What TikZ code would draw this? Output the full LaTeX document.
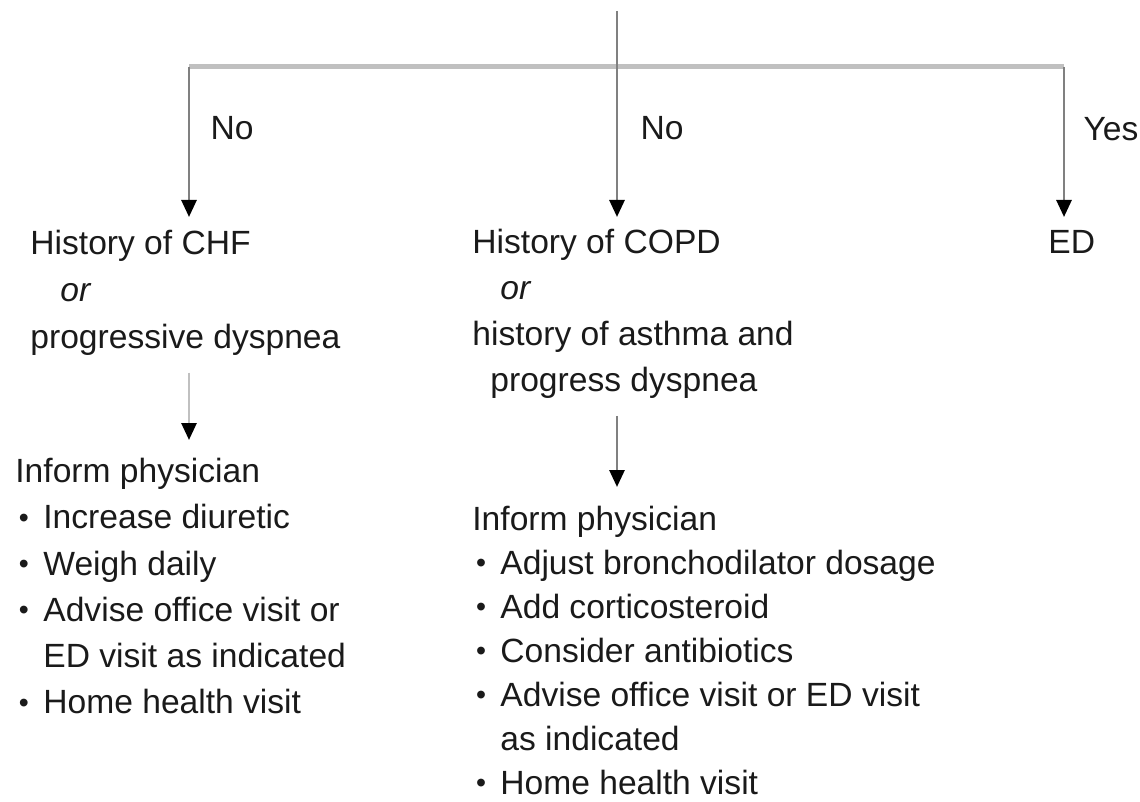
\documentclass[tikz,border=0pt]{standalone}
\usepackage{fontspec}
\setmainfont{Liberation Sans}
\usetikzlibrary{arrows.meta}
\definecolor{linedark}{HTML}{808080}
\definecolor{linelight}{HTML}{C0C0C0}
\definecolor{textdark}{HTML}{1A1A1A}
\newcommand{\blt}{\makebox[14pt][l]{\hspace{1.8pt}\raisebox{0.8pt}{\scalebox{0.85}{\textbullet}}}}
\newcommand{\bltgap}{\hspace*{14pt}}

\tikzset{
  txt/.style={inner sep=0pt, anchor=north west, align=left, text=textdark,
              font=\fontsize{16.8}{23}\selectfont},
  lbl/.style={inner sep=0pt, text=textdark, font=\fontsize{16.8}{23}\selectfont},
  flow/.style={draw=linedark, line width=1.4pt,
               -{Triangle[color=black, width=7.5pt, length=8.5pt]}},
  branch/.style={draw=linelight, line width=2.5pt}
}

\begin{document}
\begin{tikzpicture}[x=0.5pt, y=-0.5pt]
    \useasboundingbox (0,0) rectangle (1140,802);

    % split points
    \coordinate (top) at (617,11);
    \coordinate (lsplit) at (189,67);
    \coordinate (rsplit) at (1064,67);

    % first row
    \node[txt, font=\fontsize{16.8}{23.5}\selectfont] (chf) at (30,221) {\strut History of CHF\\
        \hspace*{15pt}\textit{or}\\
        progressive dyspnea};
    \node[txt] (copd) at (472,221) {\strut History of COPD\\
        \hspace*{14pt}\textit{or}\\
        history of asthma and\\
        \hspace*{9pt}progress dyspnea};
    \node[txt] (ed) at (1048,221) {\strut ED};

    % second row
    \node[txt, font=\fontsize{16.8}{23.1}\selectfont] (chfact) at (15,450) {\strut Inform physician\\
        \blt Increase diuretic\\
        \blt Weigh daily\\
        \blt Advise office visit or\\
        \bltgap ED visit as indicated\\
        \blt Home health visit};
    \node[txt, font=\fontsize{16.8}{22}\selectfont] (copdact) at (472,499) {\strut Inform physician\\
        \blt Adjust bronchodilator dosage\\
        \blt Add corticosteroid\\
        \blt Consider antibiotics\\
        \blt Advise office visit or ED visit\\
        \bltgap as indicated\\
        \blt Home health visit};

    % branch labels
    \node[lbl] (nol) at (232,128) {No};
    \node[lbl] (noc) at (662,128) {No};
    \node[lbl] (yes) at (1111,129) {Yes};

    % connectors
    \draw[branch] (lsplit) -- (rsplit);
    \draw[flow, shorten >=2pt] (top) -- (top |- copd.north);
    \draw[flow, shorten >=2pt] (lsplit) -- (lsplit |- chf.north);
    \draw[flow, shorten >=2pt] (rsplit) -- (rsplit |- ed.north);
    \draw[flow, draw=linelight, shorten <=8.5pt, shorten >=5pt]
        (lsplit |- chf.south) -- (lsplit |- chfact.north);
    \draw[flow, shorten <=8.5pt, shorten >=6pt]
        (top |- copd.south) -- (top |- copdact.north);
\end{tikzpicture}
\end{document}
